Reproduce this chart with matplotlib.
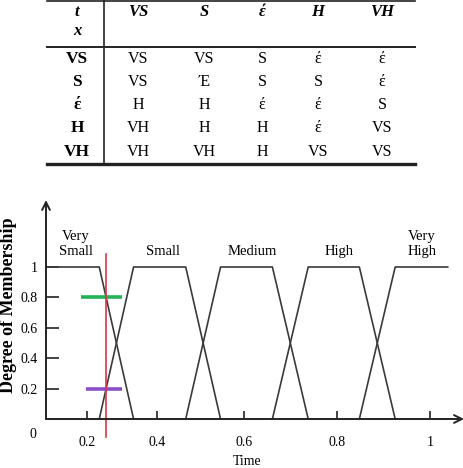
import numpy as np
import matplotlib
matplotlib.use("Agg")
import matplotlib.pyplot as plt
from matplotlib.lines import Line2D

# ---------------- data ----------------
col_headers = ["VS", "S", "\u03ad", "H", "VH"]
row_headers = ["VS", "S", "\u03ad", "H", "VH"]
table_cells = [
    ["VS", "VS", "S", "\u03ad", "\u03ad"],
    ["VS", "\u0388", "S", "S", "\u03ad"],
    ["H", "H", "\u03ad", "\u03ad", "S"],
    ["VH", "H", "H", "\u03ad", "VS"],
    ["VH", "VH", "H", "VS", "VS"],
]

set_names = ["Very\nSmall", "Small", "Medium", "High", "Very\nHigh"]
# trapezoid breakpoints (time)
vs_x = [0.0, 0.235, 0.333]
vs_y = [1, 1, 0]
small_x = [0.235, 0.333, 0.466, 0.546]
medium_x = [0.466, 0.546, 0.661, 0.738]
high_x = [0.661, 0.738, 0.848, 0.925]
trap_y = [0, 1, 1, 0]
vh_x = [0.848, 0.925, 1.038]
vh_y = [0, 1, 1]
label_x = [0.146, 0.414, 0.617, 0.804, 0.983]

x_ticks = [0.2, 0.4, 0.6, 0.8, 1.0]
x_ticklabels = ["0.2", "0.4", "0.6", "0.8", "1"]
y_ticks = [0.2, 0.4, 0.6, 0.8, 1.0]
y_ticklabels = ["0.2", "0.4", "0.6", "0.8", "1"]

cut_time = 0.254
green_level, green_x = 0.8, [0.171, 0.299]
purple_level, purple_x = 0.2, [0.195, 0.299]

# hand-drawn (non-uniform) time axis: time knots -> pixel positions
knot_t = [0.0, 0.2, 0.4, 0.6, 0.8, 1.0, 1.2]
knot_p = [46, 87, 157, 244, 337, 430, 523]

W, H = 464, 468
fig = plt.figure(figsize=(W / 100, H / 100), dpi=100)
SERIF = ["Liberation Serif", "DejaVu Serif"]

def fx(px):
    return px / W

def fy(py):
    return 1 - py / H

# ---------------- table ----------------
tl, tr = 47, 415
fig.add_artist(Line2D([fx(tl), fx(tr)], [fy(0.7), fy(0.7)], color="#222", lw=1.2))
fig.add_artist(Line2D([fx(tl), fx(tr)], [fy(47), fy(47)], color="#222", lw=1.4))
fig.add_artist(Line2D([fx(tl), fx(tr)], [fy(164), fy(164)], color="#222", lw=2.4))
fig.add_artist(Line2D([fx(104), fx(104)], [fy(0), fy(164)], color="#222", lw=1.2))

col_x = [138, 204, 262, 318, 382]
row_y = [59, 82, 105, 128, 152]
fig.text(fx(77), fy(12), "t", ha="center", va="center", family=SERIF,
         style="italic", weight="bold", fontsize=12)
fig.text(fx(77), fy(31), "x", ha="center", va="center", family=SERIF,
         style="italic", weight="bold", fontsize=12)
for cx, h in zip(col_x, col_headers):
    fig.text(fx(cx), fy(12), h, ha="center", va="center", family=SERIF,
             style="italic", weight="bold", fontsize=12)
for ry, rh, row in zip(row_y, row_headers, table_cells):
    fig.text(fx(77), fy(ry), rh, ha="center", va="center", family=SERIF,
             weight="bold", fontsize=12.5)
    for cx, v in zip(col_x, row):
        fig.text(fx(cx), fy(ry), v, ha="center", va="center", family=SERIF,
                 fontsize=11.5)

# ---------------- chart ----------------
ax = fig.add_axes([fx(46), fy(419), fx(464) - fx(46), (419 - 200) / H])

def fwd(t):
    return np.interp(t, knot_t, knot_p)

def inv(p):
    return np.interp(p, knot_p, knot_t)

ax.set_xscale("function", functions=(fwd, inv))
ax.set_xlim(0, 1.073)
ax.set_ylim(0, (419 - 200) / 152)

lc = "#3a3a3a"
ax.plot(vs_x, vs_y, color=lc, lw=1.2, clip_on=False)
for xs in (small_x, medium_x, high_x):
    ax.plot(xs, trap_y, color=lc, lw=1.2, clip_on=False)
ax.plot(vh_x, vh_y, color=lc, lw=1.2, clip_on=False)

for lx, name in zip(label_x, set_names):
    ax.text(lx, 1.06, name, ha="center", va="bottom", family=SERIF,
            fontsize=10.5, linespacing=1.15)

ax.plot(green_x, [green_level] * 2, color="#22b455", lw=2.6, solid_capstyle="butt")
ax.plot(purple_x, [purple_level] * 2, color="#8a4fc8", lw=2.6, solid_capstyle="butt")
ax.plot([cut_time, cut_time], [-0.116, 1.086], color="#dd3344", lw=1.2, clip_on=False)

for s in ax.spines.values():
    s.set_visible(False)
ax.annotate("", xy=(0, 1), xytext=(0, 0), xycoords="axes fraction",
            arrowprops=dict(arrowstyle="->", color="#222", lw=1.4,
                            mutation_scale=14, shrinkA=0, shrinkB=0))
ax.annotate("", xy=(1.0, 0), xytext=(0, 0), xycoords="axes fraction",
            arrowprops=dict(arrowstyle="->", color="#222", lw=1.4,
                            mutation_scale=14, shrinkA=0, shrinkB=0),
            annotation_clip=False)

ax.set_xticks(x_ticks)
ax.set_xticklabels(x_ticklabels, family=SERIF, fontsize=10)
ax.set_yticks(y_ticks)
ax.set_yticklabels(y_ticklabels, family=SERIF, fontsize=10)
ax.xaxis.set_minor_locator(matplotlib.ticker.NullLocator())
ax.tick_params(axis="x", direction="in", length=6, width=1.2, color="#222", pad=12)
ax.tick_params(axis="y", direction="in", length=9, width=1.2, color="#222", pad=6)
ax.patch.set_alpha(0)

fig.text(fx(33), fy(434), "0", ha="center", va="center", family=SERIF, fontsize=10)
fig.text(fx(247), fy(455), "Time", ha="center", va="top", family=SERIF, fontsize=10)
fig.text(fx(9), fy(305), "Degree of Membership", rotation=90, ha="center",
         va="center", family=SERIF, weight="bold", fontsize=13)

fig.savefig("out.png", dpi=100)
